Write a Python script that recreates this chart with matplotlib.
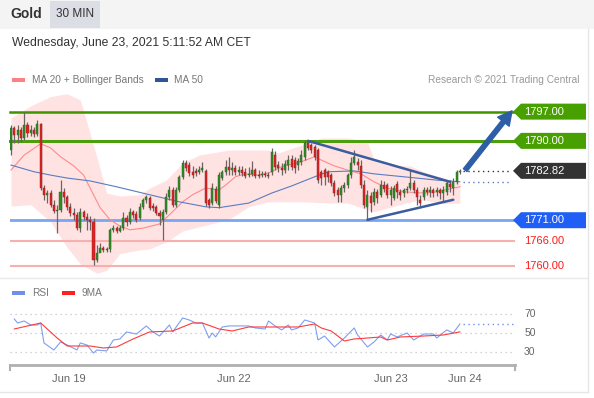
import matplotlib
matplotlib.use("Agg")
import matplotlib.pyplot as plt
from matplotlib.patches import Polygon, Rectangle
from matplotlib.transforms import IdentityTransform
import numpy as np

plt.rcParams["font.family"] = ["Liberation Sans", "DejaVu Sans"]

W, H = 594, 398

# ------------------------------
# 30 min candles (Gold)
# ------------------------------
opens = [1787.8, 1793.1, 1791.4, 1792.6, 1790.7, 1793.8, 1791.9, 1792.6, 1791.7, 1794.1,
         1778.7, 1777.1, 1777.5, 1774.7, 1773.2, 1773.5, 1777.8, 1776.6, 1774.2, 1772.7,
         1772.3, 1769.1, 1773.0, 1771.8, 1771.1, 1770.6, 1761.5, 1763.1, 1764.3, 1763.9,
         1764.1, 1768.7, 1769.1, 1768.4, 1769.1, 1771.5, 1770.6, 1773.0, 1772.5, 1771.5,
         1774.2, 1775.9, 1776.3, 1774.4, 1774.2, 1772.7, 1771.1, 1773.0, 1776.6, 1778.2,
         1774.7, 1778.2, 1781.4, 1784.7, 1784.2, 1782.6, 1782.8, 1782.6, 1783.0, 1782.8,
         1775.9, 1775.1, 1778.5, 1774.7, 1781.1, 1782.6, 1783.8, 1783.0, 1783.5, 1782.6,
         1783.0, 1782.6, 1781.8, 1782.1, 1783.0, 1781.8, 1781.8, 1782.1, 1781.8, 1782.6,
         1786.6, 1784.2, 1783.5, 1783.0, 1784.2, 1785.7, 1785.4, 1784.2, 1785.0, 1786.2,
         1789.5, 1789.0, 1788.6, 1787.8, 1782.6, 1783.0, 1782.6, 1781.8, 1779.9, 1778.2,
         1777.1, 1778.7, 1779.4, 1781.8, 1784.7, 1785.0, 1784.0, 1779.4, 1774.2, 1776.8,
         1775.4, 1777.8, 1777.1, 1779.4, 1779.4, 1777.1, 1776.3, 1779.7, 1777.8, 1777.5,
         1778.2, 1778.7, 1779.9, 1778.2, 1775.9, 1776.6, 1778.2, 1777.8, 1778.2, 1777.8,
         1778.2, 1777.5, 1777.8, 1779.7, 1778.7, 1780.2, 1782.6]
closes = [1793.1, 1791.4, 1792.6, 1790.7, 1793.8, 1791.9, 1792.6, 1791.7, 1794.1, 1778.7,
          1777.1, 1777.5, 1774.7, 1773.2, 1773.5, 1777.8, 1776.6, 1774.2, 1772.7, 1772.3,
          1769.1, 1773.0, 1771.8, 1771.1, 1770.6, 1761.5, 1763.1, 1764.3, 1763.9, 1764.1,
          1768.7, 1769.1, 1768.4, 1769.1, 1771.5, 1770.6, 1773.0, 1772.3, 1771.1, 1774.2,
          1775.9, 1776.6, 1774.0, 1774.0, 1772.7, 1772.0, 1773.0, 1776.6, 1778.2, 1774.7,
          1778.2, 1781.4, 1784.7, 1783.5, 1782.3, 1781.8, 1782.3, 1783.0, 1783.5, 1775.1,
          1774.7, 1778.7, 1775.6, 1781.8, 1782.6, 1783.8, 1783.0, 1783.5, 1782.6, 1783.0,
          1782.3, 1781.6, 1782.1, 1783.0, 1781.6, 1781.7, 1782.1, 1781.8, 1781.6, 1787.4,
          1783.8, 1783.5, 1783.0, 1784.5, 1785.4, 1783.8, 1783.5, 1785.2, 1786.6, 1789.5,
          1788.3, 1787.8, 1786.2, 1780.6, 1781.1, 1781.4, 1781.4, 1779.9, 1777.5, 1777.1,
          1778.7, 1779.4, 1781.8, 1784.7, 1786.2, 1784.2, 1779.4, 1774.7, 1777.1, 1775.1,
          1777.8, 1776.3, 1779.4, 1778.5, 1777.1, 1778.2, 1778.7, 1777.8, 1777.1, 1778.2,
          1778.5, 1779.9, 1778.2, 1776.6, 1775.1, 1778.2, 1777.8, 1778.2, 1777.5, 1778.2,
          1777.5, 1778.2, 1779.9, 1779.0, 1780.2, 1782.6, 1782.82]
highs = [1793.8, 1793.6, 1793.8, 1793.4, 1797.0, 1794.6, 1793.8, 1793.4, 1795.0, 1794.3,
         1779.4, 1778.2, 1778.2, 1775.9, 1774.7, 1780.6, 1778.7, 1777.1, 1775.1, 1774.0,
         1773.0, 1774.0, 1773.5, 1772.7, 1772.0, 1771.5, 1765.1, 1765.5, 1764.8, 1764.6,
         1769.1, 1769.9, 1769.6, 1769.9, 1773.0, 1772.3, 1774.0, 1773.5, 1773.2, 1775.1,
         1776.3, 1777.1, 1776.8, 1775.1, 1774.7, 1773.5, 1773.7, 1777.5, 1779.2, 1779.0,
         1779.0, 1781.8, 1785.4, 1785.4, 1785.0, 1784.0, 1783.5, 1784.0, 1785.0, 1783.3,
         1776.3, 1779.9, 1779.2, 1782.6, 1783.0, 1785.4, 1786.2, 1785.0, 1784.2, 1784.0,
         1784.0, 1783.5, 1783.8, 1785.2, 1783.5, 1783.0, 1782.8, 1782.8, 1782.6, 1788.3,
         1787.6, 1785.2, 1784.7, 1785.4, 1786.6, 1786.6, 1786.2, 1785.9, 1787.8, 1790.2,
         1790.2, 1789.5, 1789.0, 1788.3, 1783.0, 1783.5, 1783.0, 1782.3, 1780.6, 1779.0,
         1779.4, 1780.2, 1782.3, 1786.2, 1787.8, 1785.9, 1785.4, 1780.6, 1778.2, 1777.8,
         1778.7, 1778.5, 1780.6, 1780.4, 1779.9, 1779.2, 1779.4, 1780.4, 1778.5, 1778.7,
         1779.2, 1783.0, 1780.6, 1779.0, 1777.1, 1779.0, 1779.0, 1779.2, 1778.7, 1779.0,
         1778.7, 1779.2, 1780.6, 1780.6, 1781.1, 1783.0, 1783.3]
lows = [1786.6, 1789.5, 1789.5, 1789.8, 1790.2, 1791.0, 1791.2, 1791.0, 1791.2, 1778.2,
        1775.9, 1775.1, 1774.2, 1772.7, 1767.9, 1773.0, 1775.1, 1773.5, 1772.0, 1771.1,
        1768.7, 1768.2, 1771.1, 1768.7, 1768.7, 1760.3, 1761.0, 1763.4, 1763.4, 1763.4,
        1763.4, 1768.2, 1767.9, 1768.2, 1768.7, 1769.6, 1770.1, 1771.5, 1770.6, 1771.1,
        1773.7, 1775.1, 1773.5, 1773.2, 1772.3, 1769.9, 1766.3, 1772.5, 1775.9, 1774.2,
        1774.2, 1777.8, 1780.9, 1782.8, 1781.6, 1781.1, 1781.6, 1782.1, 1782.6, 1774.4,
        1774.0, 1774.7, 1775.1, 1774.0, 1780.6, 1781.8, 1781.8, 1781.8, 1781.8, 1781.8,
        1781.6, 1781.1, 1781.4, 1781.6, 1781.1, 1781.1, 1781.4, 1781.4, 1781.1, 1781.8,
        1783.0, 1782.6, 1781.8, 1782.3, 1783.0, 1783.0, 1782.3, 1783.0, 1784.2, 1785.4,
        1787.8, 1787.1, 1785.4, 1779.9, 1779.4, 1779.4, 1780.2, 1779.2, 1776.8, 1775.4,
        1775.4, 1777.8, 1778.7, 1781.1, 1784.2, 1783.0, 1778.7, 1774.0, 1771.1, 1773.0,
        1774.7, 1775.1, 1776.6, 1777.8, 1776.3, 1774.7, 1775.9, 1776.3, 1775.9, 1776.6,
        1777.5, 1778.2, 1777.5, 1774.7, 1774.2, 1775.9, 1777.1, 1776.6, 1776.6, 1776.8,
        1776.1, 1775.4, 1777.1, 1777.8, 1777.1, 1779.7, 1782.1]

# indicators (candle index, value)
ma20_idx = [0, 4, 9, 12, 15, 19, 22, 25, 27, 30, 33, 36, 40, 45, 48, 52, 55, 59, 63, 65,
            68, 71, 75, 78, 82, 88, 92, 94, 98, 102, 106, 110, 114, 119, 125, 129, 134, 136]
ma20 = [1783.0, 1786.6, 1789.3, 1788.3, 1786.2, 1784.0, 1781.8, 1777.1, 1774.0, 1771.1,
        1769.6, 1768.7, 1769.1, 1770.1, 1772.3, 1775.4, 1777.1, 1778.7, 1778.2, 1779.4,
        1781.4, 1782.1, 1781.8, 1782.3, 1783.8, 1785.0, 1786.2, 1785.4, 1784.0, 1783.0,
        1782.1, 1780.2, 1778.7, 1777.8, 1777.5, 1777.8, 1778.7, 1779.0]

bb_idx = [0, 6, 12, 17, 21, 26, 29, 33, 39, 42, 47, 52, 57, 66, 72, 78, 81, 88, 94,
          102, 108, 110, 114, 121, 125, 131, 136]
bb_upper = [1795.5, 1798.4, 1800.6, 1801.3, 1799.8, 1786.2, 1777.5, 1776.8, 1777.1, 1778.7,
            1780.6, 1784.7, 1786.6, 1787.8, 1787.8, 1787.8, 1787.1, 1789.0, 1790.7,
            1790.7, 1789.8, 1785.4, 1784.2, 1784.0, 1782.6, 1781.1, 1779.9]
bb_lower = [1774.4, 1774.7, 1770.6, 1764.5, 1760.5, 1758.3, 1759.0, 1763.0, 1763.9, 1764.1,
            1765.8, 1768.4, 1769.4, 1771.2, 1774.2, 1775.4, 1775.4, 1775.4, 1775.2,
            1775.1, 1773.5, 1773.0, 1773.9, 1775.4, 1775.9, 1775.0, 1775.1]

ma50_idx = [0, 7, 12, 17, 24, 32, 42, 51, 59, 63, 72, 79, 85, 92, 96, 104, 110, 119, 129, 136]
ma50 = [1784.2, 1782.6, 1781.8, 1781.1, 1780.4, 1779.0, 1777.1, 1775.4, 1774.2, 1774.0,
        1775.1, 1777.5, 1779.2, 1781.4, 1782.6, 1782.8, 1782.1, 1781.4, 1780.6, 1780.2]

rsi_idx = [1, 2, 4, 6, 8, 9, 10, 13, 15, 17, 20, 21, 23, 25, 26, 29, 31, 33, 35, 38,
           41, 43, 45, 48, 49, 52, 54, 56, 58, 60, 61, 62, 64, 66, 72, 74, 77, 78, 80, 82,
           84, 85, 87, 89, 92, 93, 95, 98, 101, 104, 105, 108, 110, 112, 114, 115, 117,
           120, 122, 125, 128, 129, 132, 134, 136]
rsi = [64.7, 60.5, 62.6, 58.4, 58.4, 60.5, 39.5, 32.1, 40.5, 37.4, 32.1, 39.5, 37.4, 28.9,
       32.1, 31.1, 42.6, 43.7, 51.1, 48.9, 57.4, 51.1, 46.8, 58.4, 51.1, 65.8, 63.7, 60.5,
       60.5, 44.7, 50.0, 45.8, 56.3, 57.4, 57.4, 55.3, 54.2, 62.6, 57.4, 53.2, 58.4, 53.2,
       55.3, 63.7, 60.5, 42.6, 46.8, 35.3, 44.7, 55.3, 47.9, 35.3, 40.5, 47.9, 42.6, 48.9,
       45.8, 50.0, 42.6, 48.9, 48.9, 44.7, 53.2, 50.0, 59.5]

rsi_ma_idx = [1, 5, 9, 14, 17, 24, 28, 32, 37, 42, 49, 55, 58, 63, 67, 72, 80, 87, 92,
              94, 97, 101, 104, 108, 112, 114, 118, 125, 131, 136]
rsi_ma = [54.2, 57.4, 60.5, 44.7, 36.3, 36.3, 34.2, 35.3, 43.7, 51.1, 52.1, 60.5, 60.5,
          54.2, 52.1, 56.3, 56.3, 56.3, 59.5, 55.3, 52.1, 41.6, 43.7, 44.7, 45.8, 42.6,
          45.8, 46.8, 47.9, 51.1]

# key levels
resistances = [1797.00, 1790.00]
support = 1771.00
minor_supports = [1766.00, 1760.00]
last_price = 1782.82

# triangle (start idx, start price, end idx, end price)
tri_upper = ([90, 133], [1790.0, 1780.2])
tri_lower = ([108, 134], [1771.1, 1775.9])
target_arrow = ([137.6, 151.8], [1783.0, 1797.2])

date_ticks = [17.6, 67.6, 115.2, 137.6]
date_labels = ["Jun 19", "Jun 22", "Jun 23", "Jun 24"]
rsi_levels = [70, 50, 30]

# ------------------------------
# Figure & layout (pixel based)
# ------------------------------
fig = plt.figure(figsize=(W / 100, H / 100), dpi=100)
fig.patch.set_facecolor("white")

def fx(x):
    return x / W

def fy(y):
    return 1 - y / H

# header strip
fig.add_artist(Rectangle((0, fy(29)), 1, 29 / H, transform=fig.transFigure,
                         fc="#f4f4f4", ec="none"))
fig.add_artist(Rectangle((fx(50), fy(28)), 50 / W, 27 / H, transform=fig.transFigure,
                         fc="#dcdee5", ec="none"))
fig.text(fx(10), fy(14), "Gold", fontsize=10, fontweight="bold", color="#333333", va="center")
fig.text(fx(75), fy(14), "30 MIN", fontsize=8.5, color="#333333", va="center", ha="center")
fig.text(fx(12), fy(43), "Wednesday, June 23, 2021 5:11:52 AM CET", fontsize=8.7,
         color="#333333", va="center")

# frame lines
fig.add_artist(plt.Line2D([fx(588), fx(588)], [fy(29), fy(392)], color="#e6e6e6", lw=1))
fig.add_artist(plt.Line2D([0, fx(588)], [fy(392), fy(392)], color="#e6e6e6", lw=1))
fig.add_artist(plt.Line2D([0, fx(588)], [fy(277.5), fy(277.5)], color="#e9e9e9", lw=1))

# legends
fig.add_artist(Rectangle((fx(12), fy(82)), 13 / W, 4 / H, transform=fig.transFigure,
                         fc="#ff8080", ec="none"))
fig.text(fx(32), fy(80), "MA 20 + Bollinger Bands", fontsize=7.3, color="#777777", va="center")
fig.add_artist(Rectangle((fx(155), fy(82)), 13 / W, 4 / H, transform=fig.transFigure,
                         fc="#2f5597", ec="none"))
fig.text(fx(174), fy(80), "MA 50", fontsize=7.3, color="#777777", va="center")
fig.text(fx(580), fy(80), "Research \u00a9 2021 Trading Central", fontsize=7.3,
         color="#999999", va="center", ha="right")

fig.add_artist(Rectangle((fx(12), fy(295)), 13 / W, 4 / H, transform=fig.transFigure,
                         fc="#6f8fe8", ec="none"))
fig.text(fx(32), fy(293), "RSI", fontsize=7.3, color="#777777", va="center")
fig.add_artist(Rectangle((fx(62), fy(295)), 13 / W, 4 / H, transform=fig.transFigure,
                         fc="#ff2020", ec="none"))
fig.text(fx(81), fy(293), "9MA", fontsize=7.3, color="#777777", va="center")

# ------------------------------
# Price panel
# ------------------------------
ax = fig.add_axes([fx(10), fy(277), 505 / W, 185 / H])
ax.set_xlim(-0.3, 152.7)
ax.set_ylim(1757.4, 1801.7)
ax.axis("off")

ax.fill_between(bb_idx, bb_lower, bb_upper, color="#ffdede", alpha=0.85, lw=0, zorder=1)
ax.plot(ma20_idx, ma20, color="#ff8a8a", lw=0.8, zorder=3)
ax.plot(ma50_idx, ma50, color="#5a7cc0", lw=0.8, zorder=3)

for lev in resistances:
    ax.axhline(lev, color="#4c9e0c" if lev == resistances[1] else "#3f9400",
               lw=2.2 if lev == resistances[1] else 1.8, zorder=2, clip_on=False)
ax.axhline(support, color="#7aa5f2", lw=2, zorder=2)
for lev in minor_supports:
    ax.axhline(lev, color="#f7b0b0", lw=1.5, zorder=2)

o = np.array(opens)
c = np.array(closes)
idx = np.arange(len(o))
up = c >= o
ax.vlines(idx, lows, highs, color="#6e6262", lw=0.9, zorder=4)
body = np.maximum(np.abs(c - o), 0.15)
ax.bar(idx, body, bottom=np.minimum(o, c), width=0.62,
       color=np.where(up, "#2f8f24", "#e02222"),
       edgecolor=np.where(up, "#2a5a20", "#8a1e1e"), lw=0.3, zorder=5)

# triangle
ax.plot(*tri_upper, color="#3b5d9c", lw=1.8, zorder=6, solid_capstyle="round")
ax.plot(*tri_lower, color="#3b5d9c", lw=1.8, zorder=6, solid_capstyle="round")

# dotted extensions
ax.plot([idx[-1] + 0.8, 151.5], [last_price, last_price], color="#333333", lw=1,
        ls=(0, (1, 2.5)), zorder=6)
ax.plot([idx[-1] + 0.8, 151.5], [ma50[-1], ma50[-1]], color="#5a7cc0", lw=1,
        ls=(0, (1, 2.5)), zorder=6)

# target arrow
ax.annotate("", xy=(target_arrow[0][1], target_arrow[1][1]),
            xytext=(target_arrow[0][0], target_arrow[1][0]),
            arrowprops=dict(arrowstyle="simple,head_length=1.0,head_width=1.05,tail_width=0.32",
                            color="#2e5ea6", mutation_scale=10, shrinkA=0, shrinkB=0),
            annotation_clip=False, zorder=7)

# right-hand price tags
def tag(level, text, face):
    _, yp = ax.transData.transform((0, level))
    x0, x1, h = 513, 586, 8
    pts = [(x0, yp), (x0 + 8, yp + h), (x1, yp + h), (x1, yp - h), (x0 + 8, yp - h)]
    fig.add_artist(Polygon(pts, closed=True, transform=IdentityTransform(),
                           fc=face, ec="none"))
    fig.text((x0 + 11) / W, yp / H, text, ha="left", va="center", color="white", fontsize=8)

tag(resistances[0], f"{resistances[0]:.2f}", "#47a000")
tag(resistances[1], f"{resistances[1]:.2f}", "#47a000")
tag(last_price, f"{last_price:.2f}", "#333333")
tag(support, f"{support:.2f}", "#1f5ff5")
for lev in minor_supports:
    _, yp = ax.transData.transform((0, lev))
    fig.text(fx(524), yp / H, f"{lev:.2f}", ha="left", va="center", color="#ff1a1a",
             fontsize=8)

# ------------------------------
# RSI panel
# ------------------------------
ax2 = fig.add_axes([fx(10), fy(365), 505 / W, 65 / H])
ax2.set_xlim(-0.3, 152.7)
ax2.set_ylim(16.3, 84.7)
for s in ["top", "left", "right"]:
    ax2.spines[s].set_visible(False)
ax2.spines["bottom"].set_color("#b0b0b0")
ax2.spines["bottom"].set_linewidth(2)
ax2.set_yticks([])
ax2.set_xticks(date_ticks, date_labels)
ax2.tick_params(axis="x", length=0, pad=6.5, labelsize=8, labelcolor="#666666")
for end in [0, 1]:
    ax2.plot([end, end], [0, -0.08], transform=ax2.transAxes, color="#b0b0b0", lw=1.5,
             clip_on=False)

for lev in rsi_levels:
    ax2.axhline(lev, color="#c4c4c4", lw=0.9, ls=(0, (1, 3)))
    ax2.text(1.018, lev, str(lev), transform=ax2.get_yaxis_transform(), fontsize=7.5,
             color="#666666", va="center", ha="left")

ax2.plot(rsi_idx, rsi, color="#7f9ef0", lw=0.8)
ax2.plot(rsi_ma_idx, rsi_ma, color="#ff3a3a", lw=0.8)
ax2.plot([rsi_idx[-1] + 1, 152.5], [rsi[-1], rsi[-1]], color="#6f8fe8", lw=1,
         ls=(0, (1, 2.5)))

fig.savefig("out.png", dpi=100)
